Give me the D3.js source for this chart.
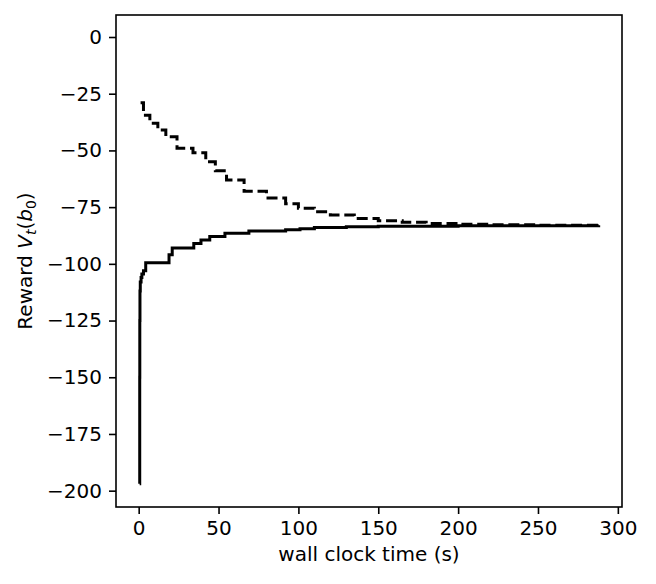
<!DOCTYPE html>
<html lang="en">
<head>
  <meta charset="UTF-8">
  <title>Reward bounds over wall clock time</title>
  <script src="https://cdn.jsdelivr.net/npm/d3@7"></script>
  <style>
    body { margin: 0; background: #fff; }
    text { font-family: "DejaVu Sans", sans-serif; }
  </style>
</head>
<body>
<svg></svg>
<script>
  const width = 656, height = 584
  const margin = {top: 15, right: 34, bottom: 77, left: 116}
  const fontSize = 20

  // upper bound (dashed), step after
  const upperTime = [1.2, 3, 7, 12, 17, 24, 34, 42, 48, 55, 66, 80, 92, 100, 110, 120, 135, 150, 165, 180, 200, 220, 250, 288]
  const upperValue = [-29, -34.5, -38, -41, -44, -49, -51, -55, -59, -63, -68, -71, -73.5, -75.5, -77, -78.5, -80, -81, -81.7, -82.2, -82.6, -82.8, -83, -83]

  // lower bound (solid), step after
  const lowerTime = [0.6, 0.65, 0.7, 0.8, 1.0, 1.5, 2.0, 3.0, 4.4, 19, 21, 34.5, 39, 44.5, 54, 69, 92, 101, 110, 130, 150, 200, 288]
  const lowerValue = [-197, -150, -125, -112, -108, -106, -104.5, -103, -99.5, -96, -93, -91, -89.5, -88, -86.5, -85.5, -85, -84.5, -84, -83.7, -83.4, -83.2, -83]

  const xTicks = [0, 50, 100, 150, 200, 250, 300]
  const yTicks = [0, -25, -50, -75, -100, -125, -150, -175, -200]

  const upper = upperTime.map((t, i) => ({t, v: upperValue[i]}))
  const lower = lowerTime.map((t, i) => ({t, v: lowerValue[i]}))

  const svg = d3.select('svg')
      .attr('width', width)
      .attr('height', height)

  const x = d3.scaleLinear()
      .domain([-14.2, 302.6])
      .range([margin.left, width - margin.right])

  const y = d3.scaleLinear()
      .domain([-207.2, 9.7])
      .range([height - margin.bottom, margin.top])

  const line = d3.line()
      .curve(d3.curveStepAfter)
      .x(d => x(d.t))
      .y(d => y(d.v))

  svg.append('path')
      .datum(lower)
      .attr('fill', 'none')
      .attr('stroke', '#000')
      .attr('stroke-width', 3)
      .attr('d', line)

  svg.append('path')
      .datum(upper)
      .attr('fill', 'none')
      .attr('stroke', '#000')
      .attr('stroke-width', 3)
      .attr('stroke-dasharray', '11,4.8')
      .attr('d', line)

  const fmt = d => String(d).replace('-', '\u2212')

  // x axis
  svg.append('g')
      .attr('transform', `translate(0,${height - margin.bottom})`)
      .call(d3.axisBottom(x).tickValues(xTicks).tickFormat(fmt).tickSizeInner(7).tickSizeOuter(0).tickPadding(7))
      .call(g => g.select('.domain').remove())
      .call(g => g.selectAll('line').attr('stroke-width', 1.6))
      .call(g => g.selectAll('text').attr('font-size', fontSize).attr('fill', '#000'))

  // y axis
  svg.append('g')
      .attr('transform', `translate(${margin.left},0)`)
      .call(d3.axisLeft(y).tickValues(yTicks).tickFormat(fmt).tickSizeInner(7).tickSizeOuter(0).tickPadding(7))
      .call(g => g.select('.domain').remove())
      .call(g => g.selectAll('line').attr('stroke-width', 1.6))
      .call(g => g.selectAll('text').attr('font-size', fontSize).attr('fill', '#000'))

  // frame
  svg.append('rect')
      .attr('x', margin.left)
      .attr('y', margin.top)
      .attr('width', width - margin.left - margin.right)
      .attr('height', height - margin.top - margin.bottom)
      .attr('fill', 'none')
      .attr('stroke', '#000')
      .attr('stroke-width', 1.6)

  // axis labels
  svg.append('text')
      .attr('x', (margin.left + width - margin.right) / 2)
      .attr('y', 561)
      .attr('text-anchor', 'middle')
      .attr('font-size', fontSize)
      .text('wall clock time (s)')

  const yl = svg.append('text')
      .attr('transform', `translate(32,${(margin.top + height - margin.bottom) / 2}) rotate(-90)`)
      .attr('text-anchor', 'middle')
      .attr('font-size', fontSize)
  yl.append('tspan').text('Reward ')
  yl.append('tspan').attr('font-style', 'italic').text('V')
  yl.append('tspan').attr('font-style', 'italic').attr('font-size', 14).attr('dy', 4).text('t')
  yl.append('tspan').attr('dy', -4).text('(')
  yl.append('tspan').attr('font-style', 'italic').text('b')
  yl.append('tspan').attr('font-size', 14).attr('dy', 4).text('0')
  yl.append('tspan').attr('dy', -4).text(')')
</script>
</body>
</html>
